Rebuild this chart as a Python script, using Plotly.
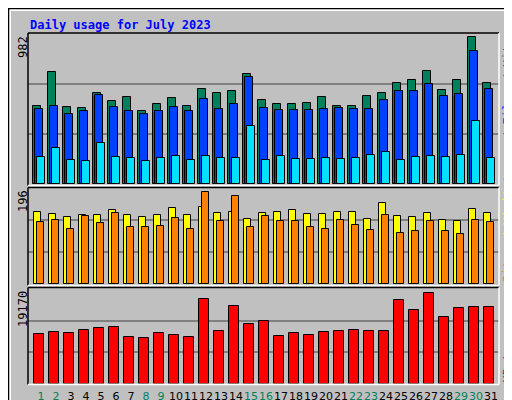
import plotly.graph_objects as go

days = list(range(1, 32))
hits = [509,731,502,496,594,541,568,476,522,561,509,620,594,607,718,548,522,522,528,568,509,509,574,594,659,679,738,613,679,960,659]
files = [489,509,456,476,581,502,476,456,476,502,476,555,489,522,699,496,483,483,483,489,496,489,489,548,607,607,653,574,587,869,620]
pages = [175,234,155,149,266,175,168,149,168,181,155,181,168,168,378,155,181,162,162,168,162,168,188,208,155,175,181,175,188,410,168]
visits = [148,142,136,140,140,151,140,136,140,155,140,157,144,148,132,144,148,151,142,142,146,146,132,165,138,136,144,130,128,153,144]
sites = [126,130,112,138,124,144,116,116,118,134,112,187,128,179,116,138,128,128,116,112,130,120,110,140,104,108,128,108,102,130,126]
kbytes = [10125,10530,10328,10935,11340,11543,9518,9315,10328,9923,9518,17213,10733,15795,12150,12758,9720,10328,9923,10530,10733,10935,10733,10733,17010,14985,18428,13568,15390,15593,15593]
weekend = [1,2,8,9,15,16,22,23,29,30]
max_hits, max_visits, max_kb = 982, 196, 19170

W, H = 512, 400
def py(p): return 1 - p / H
def px(p): return p / W

fig = go.Figure()
ln = dict(color="black", width=1)
def bar(y, color, off, wid, ax):
    fig.add_trace(go.Bar(x=days, y=y, marker=dict(color=color, line=ln), offset=off, width=wid,
                         xaxis="x" if ax == 1 else "x%d" % ax, yaxis="y" if ax == 1 else "y%d" % ax,
                         showlegend=False, hoverinfo="skip"))
bar(hits, "#00805C", -0.53, 0.53, 1)
bar(files, "#0040FF", -0.40, 0.53, 1)
bar(pages, "#00E0FF", -0.27, 0.53, 1)
bar(visits, "#FFFF00", -0.49, 0.5, 2)
bar(sites, "#FF8000", -0.25, 0.47, 2)
bar(kbytes, "#FF0000", -0.45, 0.67, 3)

xr = [0.13, 31.53]
xdom = [px(20), px(491)]
common_x = dict(range=xr, domain=xdom, showgrid=False, zeroline=False, fixedrange=True, automargin=False)
ticktext = ['<span style="color:#00805C">%d</span>' % d if d in weekend else str(d) for d in days]
def yax(dom, mx):
    return dict(domain=dom, range=[0, mx], showgrid=True, gridcolor="#808080", gridwidth=1.5,
                tickvals=[mx/3, 2*mx/3], showticklabels=False, ticks="", zeroline=False,
                fixedrange=True, automargin=False)

fig.update_layout(
    width=W, height=H, margin=dict(l=0, r=0, t=0, b=0, pad=0), autosize=False,
    paper_bgcolor="#C0C0C0", plot_bgcolor="#C0C0C0", barmode="overlay", bargap=0,
    xaxis=dict(common_x, anchor="y", showticklabels=False),
    xaxis2=dict(common_x, anchor="y2", showticklabels=False),
    xaxis3=dict(common_x, anchor="y3", tickvals=days, ticktext=ticktext, ticks="", tickangle=0,
                ticklabelstandoff=4,
                tickfont=dict(family="DejaVu Sans", size=11, color="black")),
    yaxis=yax([py(176), py(26)], max_hits),
    yaxis2=yax([py(276), py(180)], max_visits),
    yaxis3=yax([py(375.5), py(281)], max_kb),
)

shapes = []
def L(x0, y0, x1, y1, c, w=1):
    shapes.append(dict(type="line", xref="paper", yref="paper", x0=px(x0), y0=py(y0), x1=px(x1), y1=py(y1),
                       line=dict(color=c, width=w)))
L(506, 4, 506, 396, "#808080", 5)
L(4, 395.5, 508, 395.5, "#808080", 5)
L(2, 2, 509, 2, "white", 2)
L(2, 2, 2, 395, "white", 2)
shapes.append(dict(type="rect", xref="paper", yref="paper", x0=0.001, y0=0.001, x1=0.999, y1=0.999,
                   line=dict(color="black", width=1.5)))
for top, bot in [(25, 177.5), (179.5, 277.5), (279.5, 376.5)]:
    L(20, top, 491, top, "black", 1.5)
    L(20, top, 20, bot, "black", 1.5)
    L(20, bot, 491, bot, "white", 1.5)
    L(491, top, 491, bot, "white", 1.5)
fig.update_layout(shapes=shapes)

mono = "DejaVu Sans Mono"
ann = [
    dict(x=px(20), y=py(8), text="<b>Daily usage for July 2023</b>", xanchor="left", yanchor="top",
         font=dict(family=mono, size=12, color="#0000FF")),
    dict(x=px(15), y=py(26), text="982", textangle=-90, xanchor="center", yanchor="top",
         font=dict(family=mono, size=12, color="black")),
    dict(x=px(15), y=py(180), text="196", textangle=-90, xanchor="center", yanchor="top",
         font=dict(family=mono, size=12, color="black")),
    dict(x=px(15), y=py(281), text="19170", textangle=-90, xanchor="center", yanchor="top",
         font=dict(family=mono, size=12, color="black")),
    dict(x=px(499), y=py(177), textangle=-90, xanchor="center", yanchor="bottom",
         text='<span style="color:#00E0FF">Pages</span><span style="color:#00805C"> / </span><span style="color:#0040FF">Files</span><span style="color:#00805C"> / Hits</span>',
         font=dict(family=mono, size=12)),
    dict(x=px(499), y=py(277), textangle=-90, xanchor="center", yanchor="bottom",
         text='<span style="color:#FF8000">Sites</span><span style="color:#FFFF00"> / Visits</span>',
         font=dict(family=mono, size=12)),
    dict(x=px(499), y=py(377), textangle=-90, xanchor="center", yanchor="bottom",
         text='KBytes', font=dict(family=mono, size=12, color="#FF0000")),
]
for a in ann:
    a.update(xref="paper", yref="paper", showarrow=False)
fig.update_layout(annotations=ann)
fig.write_html("out.html")
